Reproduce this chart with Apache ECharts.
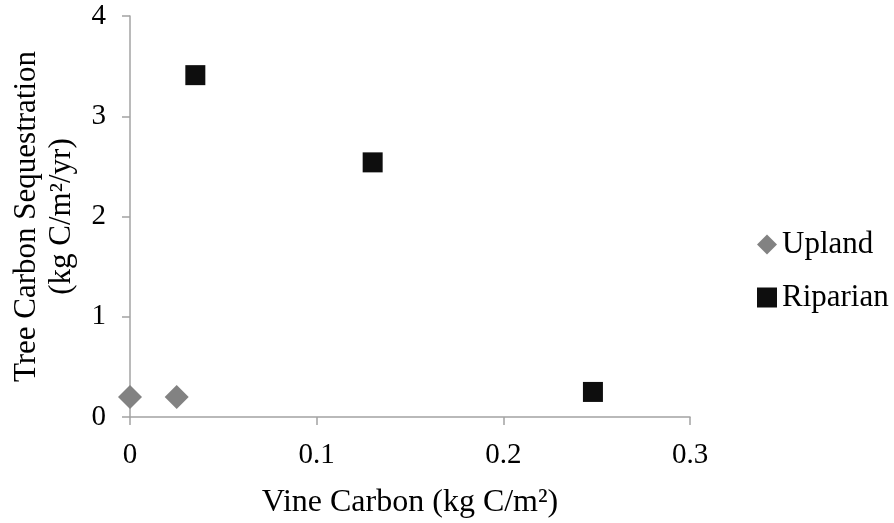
<!DOCTYPE html>
<html>
<head>
<meta charset="utf-8">
<script src="https://cdn.jsdelivr.net/npm/echarts@6/dist/echarts.min.js"></script>
<style>
  html, body { margin: 0; padding: 0; background: #fff; }
  #chart { width: 894px; height: 523px; }
</style>
</head>
<body>
<div id="chart"></div>
<script>
// Vine carbon (x) vs tree carbon sequestration (y)
const uplandX = [0.000, 0.025];
const uplandY = [0.20, 0.20];
const riparianX = [0.035, 0.130, 0.248];
const riparianY = [3.41, 2.54, 0.25];
const xTicks = [0, 0.1, 0.2, 0.3];
const yTicks = [0, 1, 2, 3, 4];

const serif = '"Liberation Serif", "Times New Roman", serif';
const axisGrey = '#a3a3a3';
const uplandColor = '#828282';
const riparianColor = '#0e0e0e';

const pairs = (xs, ys) => xs.map((x, i) => [x, ys[i]]);

const chart = echarts.init(document.getElementById('chart'));
chart.setOption({
  animation: false,
  backgroundColor: '#fff',
  textStyle: { fontFamily: serif },
  grid: {
    left: 130, top: 16, right: 204, bottom: 106,
    containLabel: false,
    outerBoundsMode: 'none'
  },
  legend: {
    orient: 'vertical',
    left: 752,
    top: 224,
    itemGap: 22,
    itemWidth: 20,
    itemHeight: 20,
    textStyle: { fontFamily: serif, fontSize: 31, color: '#000' },
    data: [
      { name: 'Upland', icon: 'diamond', itemStyle: { color: uplandColor, opacity: 1 } },
      { name: 'Riparian', icon: 'rect', itemStyle: { color: riparianColor, opacity: 1 } }
    ]
  },
  xAxis: {
    type: 'value',
    min: xTicks[0],
    max: xTicks[xTicks.length - 1],
    interval: 0.1,
    splitLine: { show: false },
    axisLine: { show: true, onZero: false, lineStyle: { color: axisGrey, width: 1.5 } },
    axisTick: { show: true, length: 8, lineStyle: { color: axisGrey, width: 1.5 } },
    axisLabel: { fontFamily: serif, fontSize: 29, color: '#000', margin: 24 },
    name: 'Vine Carbon (kg C/m²)',
    nameLocation: 'middle',
    nameGap: 70,
    nameTextStyle: { fontFamily: serif, fontSize: 32, color: '#000' }
  },
  yAxis: {
    type: 'value',
    min: yTicks[0],
    max: yTicks[yTicks.length - 1],
    interval: 1,
    splitLine: { show: false },
    axisLine: { show: true, onZero: false, lineStyle: { color: axisGrey, width: 1.5 } },
    axisTick: { show: true, length: 8, lineStyle: { color: axisGrey, width: 1.5 } },
    axisLabel: { fontFamily: serif, fontSize: 29, color: '#000', margin: 24 },
    name: 'Tree Carbon Sequestration\n(kg C/m²/yr)',
    nameLocation: 'middle',
    nameRotate: 90,
    nameGap: 51,
    nameTextStyle: { fontFamily: serif, fontSize: 31, color: '#000', lineHeight: 35 }
  },
  series: [
    {
      name: 'Upland',
      type: 'scatter',
      symbol: 'diamond',
      symbolSize: 24,
      itemStyle: { color: uplandColor, opacity: 1 },
      data: pairs(uplandX, uplandY)
    },
    {
      name: 'Riparian',
      type: 'scatter',
      symbol: 'rect',
      symbolSize: 20,
      itemStyle: { color: riparianColor, opacity: 1 },
      data: pairs(riparianX, riparianY)
    }
  ]
});
</script>
</body>
</html>
